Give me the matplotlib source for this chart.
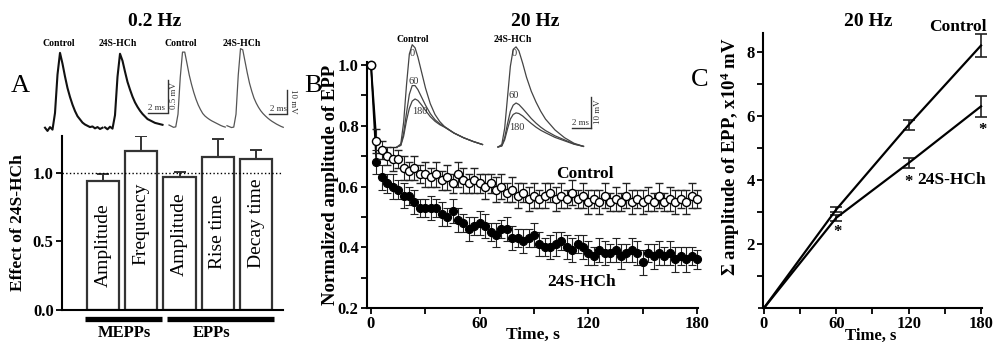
import numpy as np
import matplotlib
matplotlib.use('Agg')
import matplotlib.pyplot as plt
from matplotlib.ticker import FixedLocator

W, H = 994, 342
plt.rcParams['font.family'] = ['Liberation Serif', 'DejaVu Serif']
plt.rcParams['font.weight'] = 'bold'
plt.rcParams['mathtext.fontset'] = 'custom'
plt.rcParams['mathtext.rm'] = 'Liberation Serif:bold'
plt.rcParams['mathtext.bf'] = 'Liberation Serif:bold'
plt.rcParams['mathtext.it'] = 'Liberation Serif:bold:italic'

# ---------------- DATA ----------------
# Panel A (0.2 Hz) effect of 24S-HCh
a_categories = ['Amplitude', 'Frequency', 'Amplitude', 'Rise time', 'Decay time']
a_values = [0.94, 1.16, 0.97, 1.12, 1.10]
a_errors = [0.05, 0.11, 0.04, 0.13, 0.07]
a_groups = ['MEPPs', 'EPPs']
a_yticks = [0.0, 0.5, 1.0]

# Panel A example traces (mEPPs in mV, EPPs in mV)
mepp_t = np.arange(0, 6.0, 0.25)
mepp_control = [0.02, -0.03, 0.03, -0.01, 0.25, 0.85, 1.19, 1.02, 0.82, 0.64, 0.50, 0.38,
                0.28, 0.20, 0.15, 0.10, 0.07, 0.05, 0.03, 0.04, 0.01, 0.03, 0.00, 0.02]
mepp_hch = [0.01, -0.02, 0.02, -0.01, 0.20, 0.80, 1.16, 1.05, 0.88, 0.72, 0.60, 0.49,
            0.40, 0.33, 0.27, 0.22, 0.18, 0.14, 0.12, 0.10, 0.08, 0.07, 0.06, 0.05]
epp_t = np.arange(0, 6.5, 0.25)
epp_control = [1.3, 0.8, 0.3, 0.5, 6, 22, 33, 33, 28, 23, 19, 15.5, 12.5, 10, 8, 6.3,
               5.2, 4.4, 3.7, 3.1, 2.6, 2.1, 1.6, 1.1, 0.7, 0.4]
epp_hch = [1.0, 0.6, 0.2, 0.4, 6, 23, 34.5, 34, 29, 24, 19.5, 16, 13, 10.8, 9, 7.5,
           6.3, 5.3, 4.4, 3.6, 2.9, 2.3, 1.7, 1.2, 0.7, 0.3]

# Panel B (20 Hz) normalized EPP amplitude
b_start_time = 0
b_start_value = 1.0
b_time = np.arange(3, 181, 3)
b_control = [0.75, 0.72, 0.70, 0.69, 0.69, 0.66, 0.65, 0.66, 0.64, 0.64, 0.63, 0.64,
             0.62, 0.63, 0.61, 0.64, 0.62, 0.61, 0.62, 0.61, 0.60, 0.61, 0.59, 0.60,
             0.58, 0.59, 0.57, 0.58, 0.56, 0.57, 0.56, 0.57, 0.58, 0.56, 0.57, 0.56,
             0.58, 0.56, 0.57, 0.55, 0.56, 0.55, 0.57, 0.55, 0.56, 0.55, 0.57, 0.55,
             0.56, 0.55, 0.56, 0.55, 0.57, 0.55, 0.56, 0.55, 0.56, 0.55, 0.57, 0.56]
b_control_err = [0.04, 0.03, 0.03, 0.04, 0.03, 0.04, 0.03, 0.04, 0.03, 0.04, 0.03, 0.04,
                 0.03, 0.04, 0.03, 0.04, 0.04, 0.03, 0.04, 0.03, 0.04, 0.03, 0.04, 0.04,
                 0.03, 0.04, 0.04, 0.03, 0.04, 0.04, 0.03, 0.04, 0.03, 0.04, 0.04, 0.03,
                 0.04, 0.03, 0.04, 0.04, 0.03, 0.04, 0.04, 0.03, 0.04, 0.03, 0.04, 0.04,
                 0.03, 0.04, 0.04, 0.03, 0.04, 0.03, 0.04, 0.04, 0.03, 0.04, 0.04, 0.03]
b_hch = [0.68, 0.63, 0.61, 0.60, 0.59, 0.57, 0.57, 0.55, 0.53, 0.53, 0.53, 0.53,
         0.51, 0.50, 0.52, 0.49, 0.48, 0.46, 0.47, 0.48, 0.47, 0.45, 0.44, 0.46,
         0.46, 0.43, 0.43, 0.42, 0.43, 0.44, 0.41, 0.40, 0.40, 0.41, 0.42, 0.40,
         0.39, 0.41, 0.40, 0.38, 0.37, 0.39, 0.38, 0.38, 0.39, 0.37, 0.38, 0.39,
         0.38, 0.35, 0.38, 0.37, 0.38, 0.37, 0.38, 0.36, 0.37, 0.36, 0.37, 0.36]
b_hch_err = [0.04, 0.04, 0.03, 0.04, 0.03, 0.04, 0.03, 0.04, 0.03, 0.03, 0.04, 0.03,
             0.04, 0.03, 0.04, 0.04, 0.03, 0.04, 0.03, 0.04, 0.04, 0.03, 0.04, 0.03,
             0.04, 0.04, 0.03, 0.04, 0.03, 0.04, 0.04, 0.03, 0.04, 0.04, 0.03, 0.04,
             0.04, 0.03, 0.04, 0.04, 0.03, 0.04, 0.04, 0.03, 0.04, 0.04, 0.03, 0.04,
             0.04, 0.04, 0.03, 0.04, 0.04, 0.03, 0.04, 0.04, 0.03, 0.04, 0.03, 0.03]

# Panel B example EPP traces at 0, 60, 180 s (mV)
trace_t = [0, 0.4, 0.7, 1.0, 1.3, 1.6, 1.9, 2.2, 2.6, 3.0, 3.5, 4.0, 4.5, 5.0, 6.0, 7.0, 8.0, 9.0]
trace_labels = ['0', '60', '180']
ctrl_0 = [0, 1, 8, 20, 30, 33, 32, 29, 24, 19, 14, 10.5, 8.2, 6.6, 4.5, 3, 1.8, 0.8]
ctrl_60 = [0, 0.6, 4.5, 11, 17, 19.8, 19.8, 18.5, 16, 13.5, 10.8, 8.8, 7.5, 6.5, 4.5, 3, 1.8, 0.8]
ctrl_180 = [0, 0.5, 3.5, 8.5, 12.5, 14.8, 15.5, 15, 13.5, 11.8, 9.8, 8.3, 7.2, 6.4, 4.5, 3, 1.8, 0.8]
hch_0 = [0, 0.8, 6, 16, 26, 31.5, 32.3, 31, 27, 22.5, 18, 14.5, 11.5, 9, 5.5, 3, 1.2, 0.2]
hch_60 = [0, 0.4, 3, 7.5, 11.5, 13.5, 14.2, 13.7, 12.4, 11, 9.2, 7.7, 6.4, 5.3, 3.6, 2.3, 1.0, 0.2]
hch_180 = [0, 0.3, 2.3, 5.8, 9, 10.5, 11, 10.8, 10, 8.9, 7.6, 6.4, 5.4, 4.6, 3.1, 2.0, 0.9, 0.2]

# Panel C cumulative EPP amplitude (x10^4 mV)
c_time = [0, 60, 120, 180]
c_control = [0, 3.08, 5.72, 8.2]
c_control_err = [0, 0.09, 0.16, 0.35]
c_hch = [0, 2.82, 4.53, 6.3]
c_hch_err = [0, 0.09, 0.17, 0.33]
c_signif = [60, 120, 180]

# ---------------- LAYOUT HELPERS ----------------
fig = plt.figure(figsize=(W / 100, H / 100), dpi=100)


def box(x0, y0, x1, y1):
    return [x0 / W, 1 - y1 / H, (x1 - x0) / W, (y1 - y0) / H]


def ftext(x, y, s, **kw):
    fig.text(x / W, 1 - y / H, s, **kw)


def trace_inset(x_start, y_base, px_ms, px_mV, dur_ms, top_mV, bot_mV):
    ax = fig.add_axes(box(x_start, y_base - top_mV * px_mV,
                          x_start + dur_ms * px_ms, y_base - bot_mV * px_mV))
    ax.set_xlim(0, dur_ms)
    ax.set_ylim(bot_mV, top_mV)
    ax.axis('off')
    return ax


def style_axes(ax):
    for s in ['top', 'right']:
        ax.spines[s].set_visible(False)
    for s in ['left', 'bottom']:
        ax.spines[s].set_linewidth(1.5)
    ax.tick_params(which='both', direction='out', width=1.3, length=4, labelsize=12, pad=2)
    ax.tick_params(which='minor', length=4)


# ---------------- PANEL A ----------------
axA = fig.add_axes(box(62, 136, 283, 310))
xa = np.arange(len(a_values))
axA.bar(xa, a_values, width=0.84, color='white', edgecolor='#333333', linewidth=1.6, zorder=2)
axA.errorbar(xa, a_values, yerr=[np.zeros(len(a_errors)), a_errors], fmt='none',
             ecolor='#333333', elinewidth=1.4, capsize=4.5, capthick=1.4, zorder=1)
axA.axhline(1.0, color='black', linestyle=':', linewidth=1.0, zorder=3)
axA.set_xlim(-1.07, 4.7)
axA.set_ylim(0, 1.27)
axA.set_xticks([])
axA.yaxis.set_major_locator(FixedLocator(a_yticks))
axA.set_yticklabels([f'{v:.1f}' for v in a_yticks])
style_axes(axA)
axA.set_ylabel('Effect of 24S-HCh', fontsize=12.5, fontweight='bold')
axA.yaxis.set_label_coords(-0.165, 0.5)
label_y = [0.47, 0.63, 0.55, 0.57, 0.63]
for i, cat in enumerate(a_categories):
    axA.text(i, label_y[i], cat, rotation=90, ha='center', va='center',
             fontsize=14, fontweight='normal', zorder=4)
# group bars
group_spans = [(-0.47, 1.54), (1.67, 4.47)]
group_label_x = [0.57, 2.84]
for (g0, g1), gx, name in zip(group_spans, group_label_x, a_groups):
    axA.plot([g0, g1], [-0.068, -0.068], color='black', linewidth=3.8,
             solid_capstyle='butt', clip_on=False)
    axA.text(gx, -0.17, name, ha='center', va='center', fontsize=12, fontweight='bold')

ftext(155, 21, '0.2 Hz', ha='center', va='center', fontsize=14, fontweight='bold')
ftext(20, 86, 'A', ha='center', va='center', fontsize=19, fontweight='normal')
for x, s in [(59, 'Control'), (118, '24S-HCh'), (181, 'Control'), (242, '24S-HCh')]:
    ftext(x, 43, s, ha='center', va='center', fontsize=7, fontweight='bold')

# mEPP traces
axm1 = trace_inset(45, 129, 10, 64, 5.75, 1.3, -0.15)
axm1.plot(mepp_t, mepp_control, color='#111111', linewidth=1.5, clip_on=False)
axm2 = trace_inset(105, 128, 10, 64, 5.75, 1.3, -0.15)
axm2.plot(mepp_t, mepp_hch, color='#111111', linewidth=1.5, clip_on=False)
# EPP traces
axe1 = trace_inset(169, 128, 9, 2.3, 6.25, 36, -2)
axe1.plot(epp_t, epp_control, color='#555555', linewidth=0.9, clip_on=False)
axe2 = trace_inset(227, 128, 9, 2.3, 6.25, 36, -2)
axe2.plot(epp_t, epp_hch, color='#555555', linewidth=0.9, clip_on=False)

# ---------------- PANEL B ----------------
axB = fig.add_axes(box(367, 62, 698, 308))
axB.plot([b_start_time, b_time[0]], [b_start_value, b_hch[0]], color='black', lw=1.3, zorder=2)
axB.plot([b_start_time, b_time[0]], [b_start_value, b_control[0]], color='black', lw=1.3, zorder=2)
axB.errorbar(b_time, b_hch, yerr=b_hch_err, fmt='o', ms=5.8, mfc='black', mec='black',
             mew=0.8, ecolor='#222222', elinewidth=0.8, capsize=3, capthick=0.8,
             clip_on=False, zorder=3)
axB.errorbar(b_time, b_control, yerr=b_control_err, fmt='o', ms=5.8, mfc='white', mec='black',
             mew=1.0, ecolor='#222222', elinewidth=0.8, capsize=3, capthick=0.8,
             clip_on=False, zorder=4)
axB.plot([b_start_time], [b_start_value], 'o', ms=6, mfc='white', mec='black', mew=1.1,
         clip_on=False, zorder=5)
axB.set_xlim(-2.2, 180.5)
axB.set_ylim(0.2, 1.01)
axB.xaxis.set_major_locator(FixedLocator([0, 60, 120, 180]))
axB.xaxis.set_minor_locator(FixedLocator([30, 90, 150]))
axB.yaxis.set_major_locator(FixedLocator([0.2, 0.4, 0.6, 0.8, 1.0]))
axB.yaxis.set_minor_locator(FixedLocator([0.3, 0.5, 0.7, 0.9]))
axB.set_yticklabels(['0.2', '0.4', '0.6', '0.8', '1.0'])
style_axes(axB)
axB.set_xlabel('Time, s', fontsize=12.5, fontweight='bold', va='center')
axB.xaxis.set_label_coords(0.5, -0.108)
axB.set_ylabel('Normalized amplitude of EPP', fontsize=13.5, fontweight='bold', va='center')
axB.yaxis.set_label_coords(-0.11, 0.5)
axB.text(118, 0.64, 'Control', ha='center', va='center', fontsize=12.5, fontweight='bold')
axB.text(116, 0.285, '24S-HCh', ha='center', va='center', fontsize=12.5, fontweight='bold')

ftext(535, 21, '20 Hz', ha='center', va='center', fontsize=14, fontweight='bold')
ftext(313, 86, 'B', ha='center', va='center', fontsize=19, fontweight='normal')
ftext(413, 40, 'Control', ha='center', va='center', fontsize=7, fontweight='bold')
ftext(513, 40, '24S-HCh', ha='center', va='center', fontsize=7, fontweight='bold')

axt1 = trace_inset(397, 147, 9.5, 3.1, 9.0, 34, -1)
for tr in [ctrl_0, ctrl_60, ctrl_180]:
    axt1.plot(trace_t, tr, color='#444444', linewidth=0.9, clip_on=False)
axt2 = trace_inset(498, 147, 9.5, 3.1, 9.0, 34, -1)
for tr in [hch_0, hch_60, hch_180]:
    axt2.plot(trace_t, tr, color='#444444', linewidth=0.9, clip_on=False)
for (x, y), s in zip([(412, 53), (414, 81), (420, 112)], trace_labels):
    ftext(x, y, s, ha='center', va='center', fontsize=7.5, fontweight='normal', color='#333333')
for (x, y), s in zip([(514, 54), (514, 96), (517, 127)], trace_labels):
    ftext(x, y, s, ha='center', va='center', fontsize=7.5, fontweight='normal', color='#333333')

# ---------------- PANEL C ----------------
axC = fig.add_axes(box(763, 33, 982, 308))
axC.errorbar(c_time, c_control, yerr=c_control_err, fmt='-', color='black', lw=1.6,
             ecolor='#222222', elinewidth=1.2, capsize=4, capthick=1.2, clip_on=False)
axC.errorbar(c_time, c_hch, yerr=c_hch_err, fmt='-', color='black', lw=1.6,
             ecolor='#222222', elinewidth=1.2, capsize=4, capthick=1.2, clip_on=False)
axC.set_xlim(-0.8, 180.8)
axC.set_ylim(0, 8.59)
axC.xaxis.set_major_locator(FixedLocator([0, 60, 120, 180]))
axC.xaxis.set_minor_locator(FixedLocator([30, 90, 150]))
axC.yaxis.set_major_locator(FixedLocator([2, 4, 6, 8]))
axC.yaxis.set_minor_locator(FixedLocator([1, 3, 5, 7]))
style_axes(axC)
axC.set_xlabel('Time, s', fontsize=12, fontweight='bold', va='center')
axC.xaxis.set_label_coords(0.49, -0.1)
axC.set_ylabel(r'$\Sigma$ amplitude of EPP, x10$^{4}$ mV', fontsize=13.5, fontweight='bold',
               va='center')
axC.yaxis.set_label_coords(-0.15, 0.55)
sig_offsets = [(1, -0.45), (0, -0.6), (1, -0.75)]
for t, (dx, dy) in zip(c_signif, sig_offsets):
    yv = c_hch[c_time.index(t)]
    axC.text(t + dx, yv + dy, '*', ha='center', va='center', fontsize=12, fontweight='bold')
axC.text(127, 4.0, '24S-HCh', ha='left', va='center', fontsize=12.5, fontweight='bold')
ftext(958, 27, 'Control', ha='center', va='center', fontsize=12.5, fontweight='bold')
ftext(868, 22, '20 Hz', ha='center', va='center', fontsize=14, fontweight='bold')
ftext(700, 80, 'C', ha='center', va='center', fontsize=19, fontweight='normal')

# ---------------- SCALE BARS (pixel overlay) ----------------
ov = fig.add_axes([0, 0, 1, 1])
ov.set_xlim(0, W)
ov.set_ylim(H, 0)
ov.axis('off')
sc = '#333333'
bars = [((168, 80), (168, 112), (148, 113), (168, 113)),
        ((287, 90), (287, 113), (269, 114), (287, 114)),
        ((591, 97), (591, 128), (572, 128), (591, 128))]
for v0, v1, h0, h1 in bars:
    ov.plot([v0[0], v1[0]], [v0[1], v1[1]], color=sc, lw=1.0)
    ov.plot([h0[0], h1[0]], [h0[1], h1[1]], color=sc, lw=1.0)
for x, y in [(157, 112), (278, 113), (581, 127)]:
    ov.text(x, y, '2 ms', ha='center', va='bottom', fontsize=6.5, fontweight='normal', color=sc)
ov.text(174, 96, '0.5 mV', rotation=90, ha='center', va='center', fontsize=6.5,
        fontweight='normal', color=sc)
ov.text(293, 101, '10 mV', rotation=-90, ha='center', va='center', fontsize=6.5,
        fontweight='normal', color=sc)
ov.text(598, 112, '10 mV', rotation=90, ha='center', va='center', fontsize=6.5,
        fontweight='normal', color=sc)

fig.savefig('out.png', dpi=100)
